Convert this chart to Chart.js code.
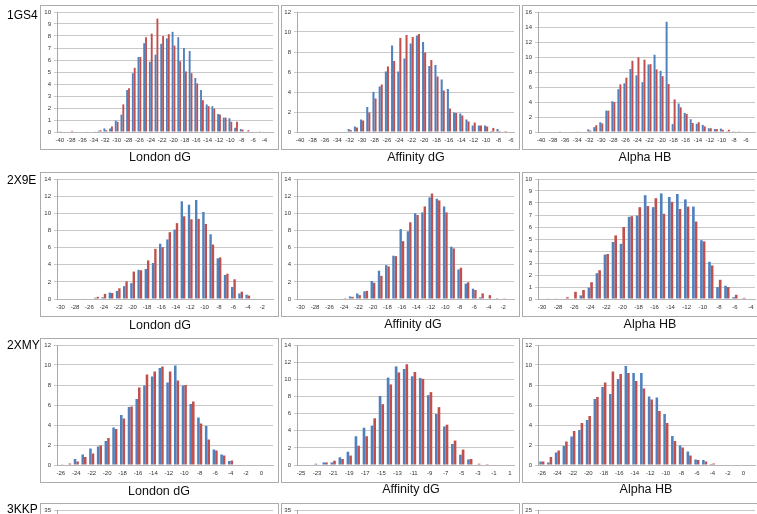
<!DOCTYPE html>
<html><head><meta charset="utf-8">
<script src="https://cdn.jsdelivr.net/npm/chart.js@4.4.1/dist/chart.umd.min.js"></script>
<style>
html,body{margin:0;padding:0;background:#fff;}
body{position:relative;width:757px;height:514px;overflow:hidden;font-family:"Liberation Sans",Arial,sans-serif;}
.box{position:absolute;border:1px solid #ababab;box-sizing:border-box;width:239px;height:145px;pointer-events:none;}
canvas{position:absolute;}
.t{position:absolute;transform:translate(-50%,-50%);white-space:nowrap;font-size:12.5px;color:#111;}
.row{position:absolute;left:7px;transform:translateY(-50%);font-size:12px;color:#000;white-space:nowrap;}
</style></head><body>
<script>
// ---------------- categories (bin centres) ----------------
const cats1GS4London   = [-40,-39,-38,-37,-36,-35,-34,-33,-32,-31,-30,-29,-28,-27,-26,-25,-24,-23,-22,-21,-20,-19,-18,-17,-16,-15,-14,-13,-12,-11,-10,-9,-8,-7,-6,-5,-4,-3];
const cats1GS4Affinity = [-40,-39,-38,-37,-36,-35,-34,-33,-32,-31,-30,-29,-28,-27,-26,-25,-24,-23,-22,-21,-20,-19,-18,-17,-16,-15,-14,-13,-12,-11,-10,-9,-8,-7,-6];
const cats1GS4Alpha    = [-40,-39,-38,-37,-36,-35,-34,-33,-32,-31,-30,-29,-28,-27,-26,-25,-24,-23,-22,-21,-20,-19,-18,-17,-16,-15,-14,-13,-12,-11,-10,-9,-8,-7,-6,-5];
const cats2X9ELondon   = [-30,-29,-28,-27,-26,-25,-24,-23,-22,-21,-20,-19,-18,-17,-16,-15,-14,-13,-12,-11,-10,-9,-8,-7,-6,-5,-4,-3,-2,-1];
const cats2X9EAffinity = [-30,-29,-28,-27,-26,-25,-24,-23,-22,-21,-20,-19,-18,-17,-16,-15,-14,-13,-12,-11,-10,-9,-8,-7,-6,-5,-4,-3,-2,-1];
const cats2X9EAlpha    = [-30,-29,-28,-27,-26,-25,-24,-23,-22,-21,-20,-19,-18,-17,-16,-15,-14,-13,-12,-11,-10,-9,-8,-7,-6,-5,-4];
const cats2XMYLondon   = [-26,-25,-24,-23,-22,-21,-20,-19,-18,-17,-16,-15,-14,-13,-12,-11,-10,-9,-8,-7,-6,-5,-4,-3,-2,-1,0,1];
const cats2XMYAffinity = [-25,-24,-23,-22,-21,-20,-19,-18,-17,-16,-15,-14,-13,-12,-11,-10,-9,-8,-7,-6,-5,-4,-3,-2,-1,0,1];
const cats2XMYAlpha    = [-26,-25,-24,-23,-22,-21,-20,-19,-18,-17,-16,-15,-14,-13,-12,-11,-10,-9,-8,-7,-6,-5,-4,-3,-2,-1,0,1];

// ---------------- series values (blue / red) ----------------
const blue1GS4London = [0.05,0,0,0,0,0.05,0,0.1,0.3,0.3,0.95,1.45,3.5,4.9,6.25,7.4,5.85,6.45,7.35,7.8,8.35,7.9,7.0,6.75,4.5,3.5,2.3,2.15,1.5,1.2,1.15,0.35,0.25,0.05,0.05,0,0.05,0];
const red1GS4London  = [0.02,0,0.1,0,0,0,0.03,0.15,0.15,0.45,0.85,2.3,3.65,5.35,6.25,7.9,8.2,9.45,8.0,8.15,7.2,5.9,5.05,4.9,4.05,2.65,2.15,1.95,1.45,1.2,0.85,0.85,0.2,0.15,0,0.02,0,0];

const blue1GS4Affinity = [0,0,0,0,0,0,0,0.05,0.3,0.55,1.25,2.5,4.0,4.55,6.05,8.65,6.05,7.35,8.85,9.65,9.0,6.6,6.7,5.25,4.3,1.95,1.85,1.25,0.65,0.65,0.65,0.1,0.3,0.05,0.05];
const red1GS4Affinity  = [0,0,0,0,0,0,0,0,0.2,0.45,1.15,1.95,3.35,4.75,6.55,7.1,9.4,9.7,9.5,9.8,7.95,7.2,5.55,4.15,2.35,1.9,1.65,1.05,0.95,0.65,0.55,0.4,0.1,0.1,0];

const blue1GS4Alpha = [0,0,0,0,0,0,0.05,0,0.35,0.65,1.3,2.85,4.1,5.7,6.5,8.4,7.55,6.65,9.0,10.3,8.15,14.7,1.05,3.8,2.55,1.7,1.1,0.95,0.5,0.4,0.45,0.1,0.1,0.03,0,0];
const red1GS4Alpha  = [0,0,0,0.1,0,0,0.05,0,0.2,0.9,1.15,2.85,4.0,6.35,7.25,9.5,9.95,9.65,9.05,8.35,7.45,6.4,4.35,3.3,2.4,1.2,1.3,0.75,0.5,0.4,0.3,0.3,0.05,0,0,0];

const blue2X9ELondon = [0,0,0,0,0,0.15,0.2,0.75,0.95,1.5,1.85,3.4,3.5,4.2,6.45,6.95,8.1,11.4,11.0,11.55,10.15,7.55,4.75,2.8,1.4,0.65,0.5,0.05,0,0];
const red2X9ELondon  = [0,0,0,0.05,0,0.25,0.6,0.7,1.25,2.05,3.2,3.35,4.5,5.85,6.05,7.8,8.85,9.65,9.3,9.35,8.75,6.35,4.85,2.95,2.3,0.85,0.4,0.05,0,0];

const blue2X9EAffinity = [0,0,0,0,0,0,0.05,0.3,0.65,0.9,2.1,3.3,3.95,5.05,8.15,7.9,10.0,10.1,11.85,11.7,10.8,6.1,3.45,1.8,1.2,0.2,0.05,0.05,0,0];
const red2X9EAffinity  = [0,0,0,0,0,0,0.1,0.25,0.45,0.95,1.9,2.7,3.8,5.0,6.75,8.95,9.8,10.8,12.3,11.5,10.1,5.9,3.65,1.95,1.05,0.65,0.45,0.1,0.03,0];

const blue2X9EAlpha = [0,0.03,0.03,0.05,0,0.3,0.95,2.15,3.7,4.75,4.6,6.85,6.95,8.65,7.65,8.8,8.5,8.75,8.3,7.7,4.9,3.1,1.0,1.1,0.15,0.05,0];
const red2X9EAlpha  = [0,0,0,0.15,0.6,0.75,1.4,2.4,3.75,5.3,6.0,6.9,7.65,7.75,8.4,7.1,8.1,7.5,7.7,6.45,4.8,2.8,1.6,1.0,0.35,0.1,0];

const blue2XMYLondon = [0.05,0.05,0.6,1.05,1.65,1.85,2.4,3.75,5.0,5.8,6.6,7.95,8.85,9.7,8.25,9.95,7.95,6.1,4.75,3.9,1.55,1.05,0.4,0,0,0,0,0];
const red2XMYLondon  = [0.03,0.15,0.35,0.8,1.15,1.95,2.7,3.6,4.65,5.85,7.75,9.05,9.35,9.85,9.35,8.45,8.0,6.35,4.15,2.55,1.45,0.95,0.45,0.05,0,0,0,0];

const blue2XMYAffinity = [0,0,0.15,0.3,0.3,0.9,1.55,3.35,4.35,4.6,8.05,10.2,11.5,11.2,10.35,10.15,8.15,5.95,4.5,2.45,1.2,0.65,0.05,0,0,0,0];
const red2XMYAffinity  = [0,0,0.05,0.3,0.5,0.7,1.1,2.25,3.35,5.45,7.1,9.4,10.8,11.75,10.85,10.05,8.5,6.75,4.7,2.85,1.8,0.7,0.15,0.1,0,0,0];

const blue2XMYAlpha = [0.35,0.25,1.25,1.9,2.85,3.5,4.5,6.6,7.8,7.1,8.6,9.9,9.2,9.2,6.85,6.75,5.1,2.9,1.95,1.35,0.55,0.5,0.1,0.05,0,0,0,0];
const red2XMYAlpha  = [0.35,0.8,1.45,2.35,3.4,4.2,4.9,6.8,8.25,9.35,9.1,9.2,8.4,7.65,6.55,5.4,4.2,2.4,1.75,0.95,0.5,0.35,0.15,0,0,0,0,0];

// ---------------- axis ranges ----------------
const yMax  = [10,12,16, 14,14,10, 12,14,12, 35,35,25];
const yStep = [1,2,2, 2,2,1, 2,2,2, 5,5,5];

// ---------------- text ----------------
const rowNames   = ['1GS4','2X9E','2XMY','3KKP'];
const axisTitles = ['London dG','Affinity dG','Alpha HB'];

// ---------------- layout (positions only) ----------------
const colLeft  = [40, 281, 522];
const rowTop   = [5, 172, 338, 503];
const yAxisW   = [17, 16, 16];
const titlePos = [
  [[160,157],[416,157],[645,157]],
  [[160,325],[413,324],[650,324]],
  [[159,491],[411,489],[646,489]]
];
const rowLabelY = [15, 180, 345, 509];

const panelData = [
  [cats1GS4London, blue1GS4London, red1GS4London],
  [cats1GS4Affinity, blue1GS4Affinity, red1GS4Affinity],
  [cats1GS4Alpha, blue1GS4Alpha, red1GS4Alpha],
  [cats2X9ELondon, blue2X9ELondon, red2X9ELondon],
  [cats2X9EAffinity, blue2X9EAffinity, red2X9EAffinity],
  [cats2X9EAlpha, blue2X9EAlpha, red2X9EAlpha],
  [cats2XMYLondon, blue2XMYLondon, red2XMYLondon],
  [cats2XMYAffinity, blue2XMYAffinity, red2XMYAffinity],
  [cats2XMYAlpha, blue2XMYAlpha, red2XMYAlpha],
  [[], [], []],
  [[], [], []],
  [[], [], []]
];

const BLUE = '#4F81BD', RED = '#C0504D';
const tickFont = {family: '"Liberation Sans", Arial, sans-serif', size: 6};

function addDiv(cls, text, x, y) {
  const d = document.createElement('div');
  d.className = cls;
  if (text) d.textContent = text;
  d.style.left = x + 'px';
  d.style.top = y + 'px';
  document.body.appendChild(d);
  return d;
}

for (let i = 0; i < 12; i++) {
  const r = Math.floor(i / 3), c = i % 3;
  const L = colLeft[c], T = rowTop[r];
  const [cats, blue, red] = panelData[i];
  const cv = document.createElement('canvas');
  cv.width = 239; cv.height = 145;
  cv.style.left = L + 'px'; cv.style.top = T + 'px';
  document.body.appendChild(cv);
  addDiv('box', '', L, T);
  const yw = yAxisW[c];
  new Chart(cv, {
    type: 'bar',
    data: {
      labels: cats,
      datasets: [
        {data: blue, backgroundColor: BLUE, borderWidth: 0},
        {data: red,  backgroundColor: RED,  borderWidth: 0}
      ]
    },
    options: {
      responsive: false,
      devicePixelRatio: 1,
      animation: false,
      events: [],
      layout: {padding: {top: 7, right: 6, left: 0, bottom: 0}},
      plugins: {legend: {display: false}, tooltip: {enabled: false}, title: {display: false}},
      datasets: {bar: {categoryPercentage: 0.66, barPercentage: 1.0}},
      scales: {
        x: {
          offset: true,
          grid: {display: false, drawTicks: false},
          border: {display: true, color: '#b8b8b8', width: 1},
          ticks: {
            autoSkip: false, maxRotation: 0, minRotation: 0, padding: 5,
            font: tickFont, color: '#333',
            callback: function (v, idx) { return idx % 2 === 0 ? String(this.getLabelForValue(v)) : ''; }
          },
          afterFit: s => { s.height = 18; s.paddingLeft = 0; s.paddingRight = 0; }
        },
        y: {
          min: 0, max: yMax[i],
          grid: {color: '#c8c8c8', lineWidth: 1, drawTicks: true, tickLength: 3},
          border: {display: true, color: '#a8a8a8', width: 1},
          ticks: {stepSize: yStep[i], font: tickFont, color: '#333', padding: 3},
          afterFit: s => { s.width = yw; s.paddingTop = 0; s.paddingBottom = 0; }
        }
      }
    }
  });
}

for (let r = 0; r < 3; r++) {
  for (let c = 0; c < 3; c++) {
    const p = titlePos[r][c];
    addDiv('t', axisTitles[c], p[0], p[1]);
  }
}
for (let r = 0; r < 4; r++) addDiv('row', rowNames[r], 7, rowLabelY[r]);
</script>
</body></html>
